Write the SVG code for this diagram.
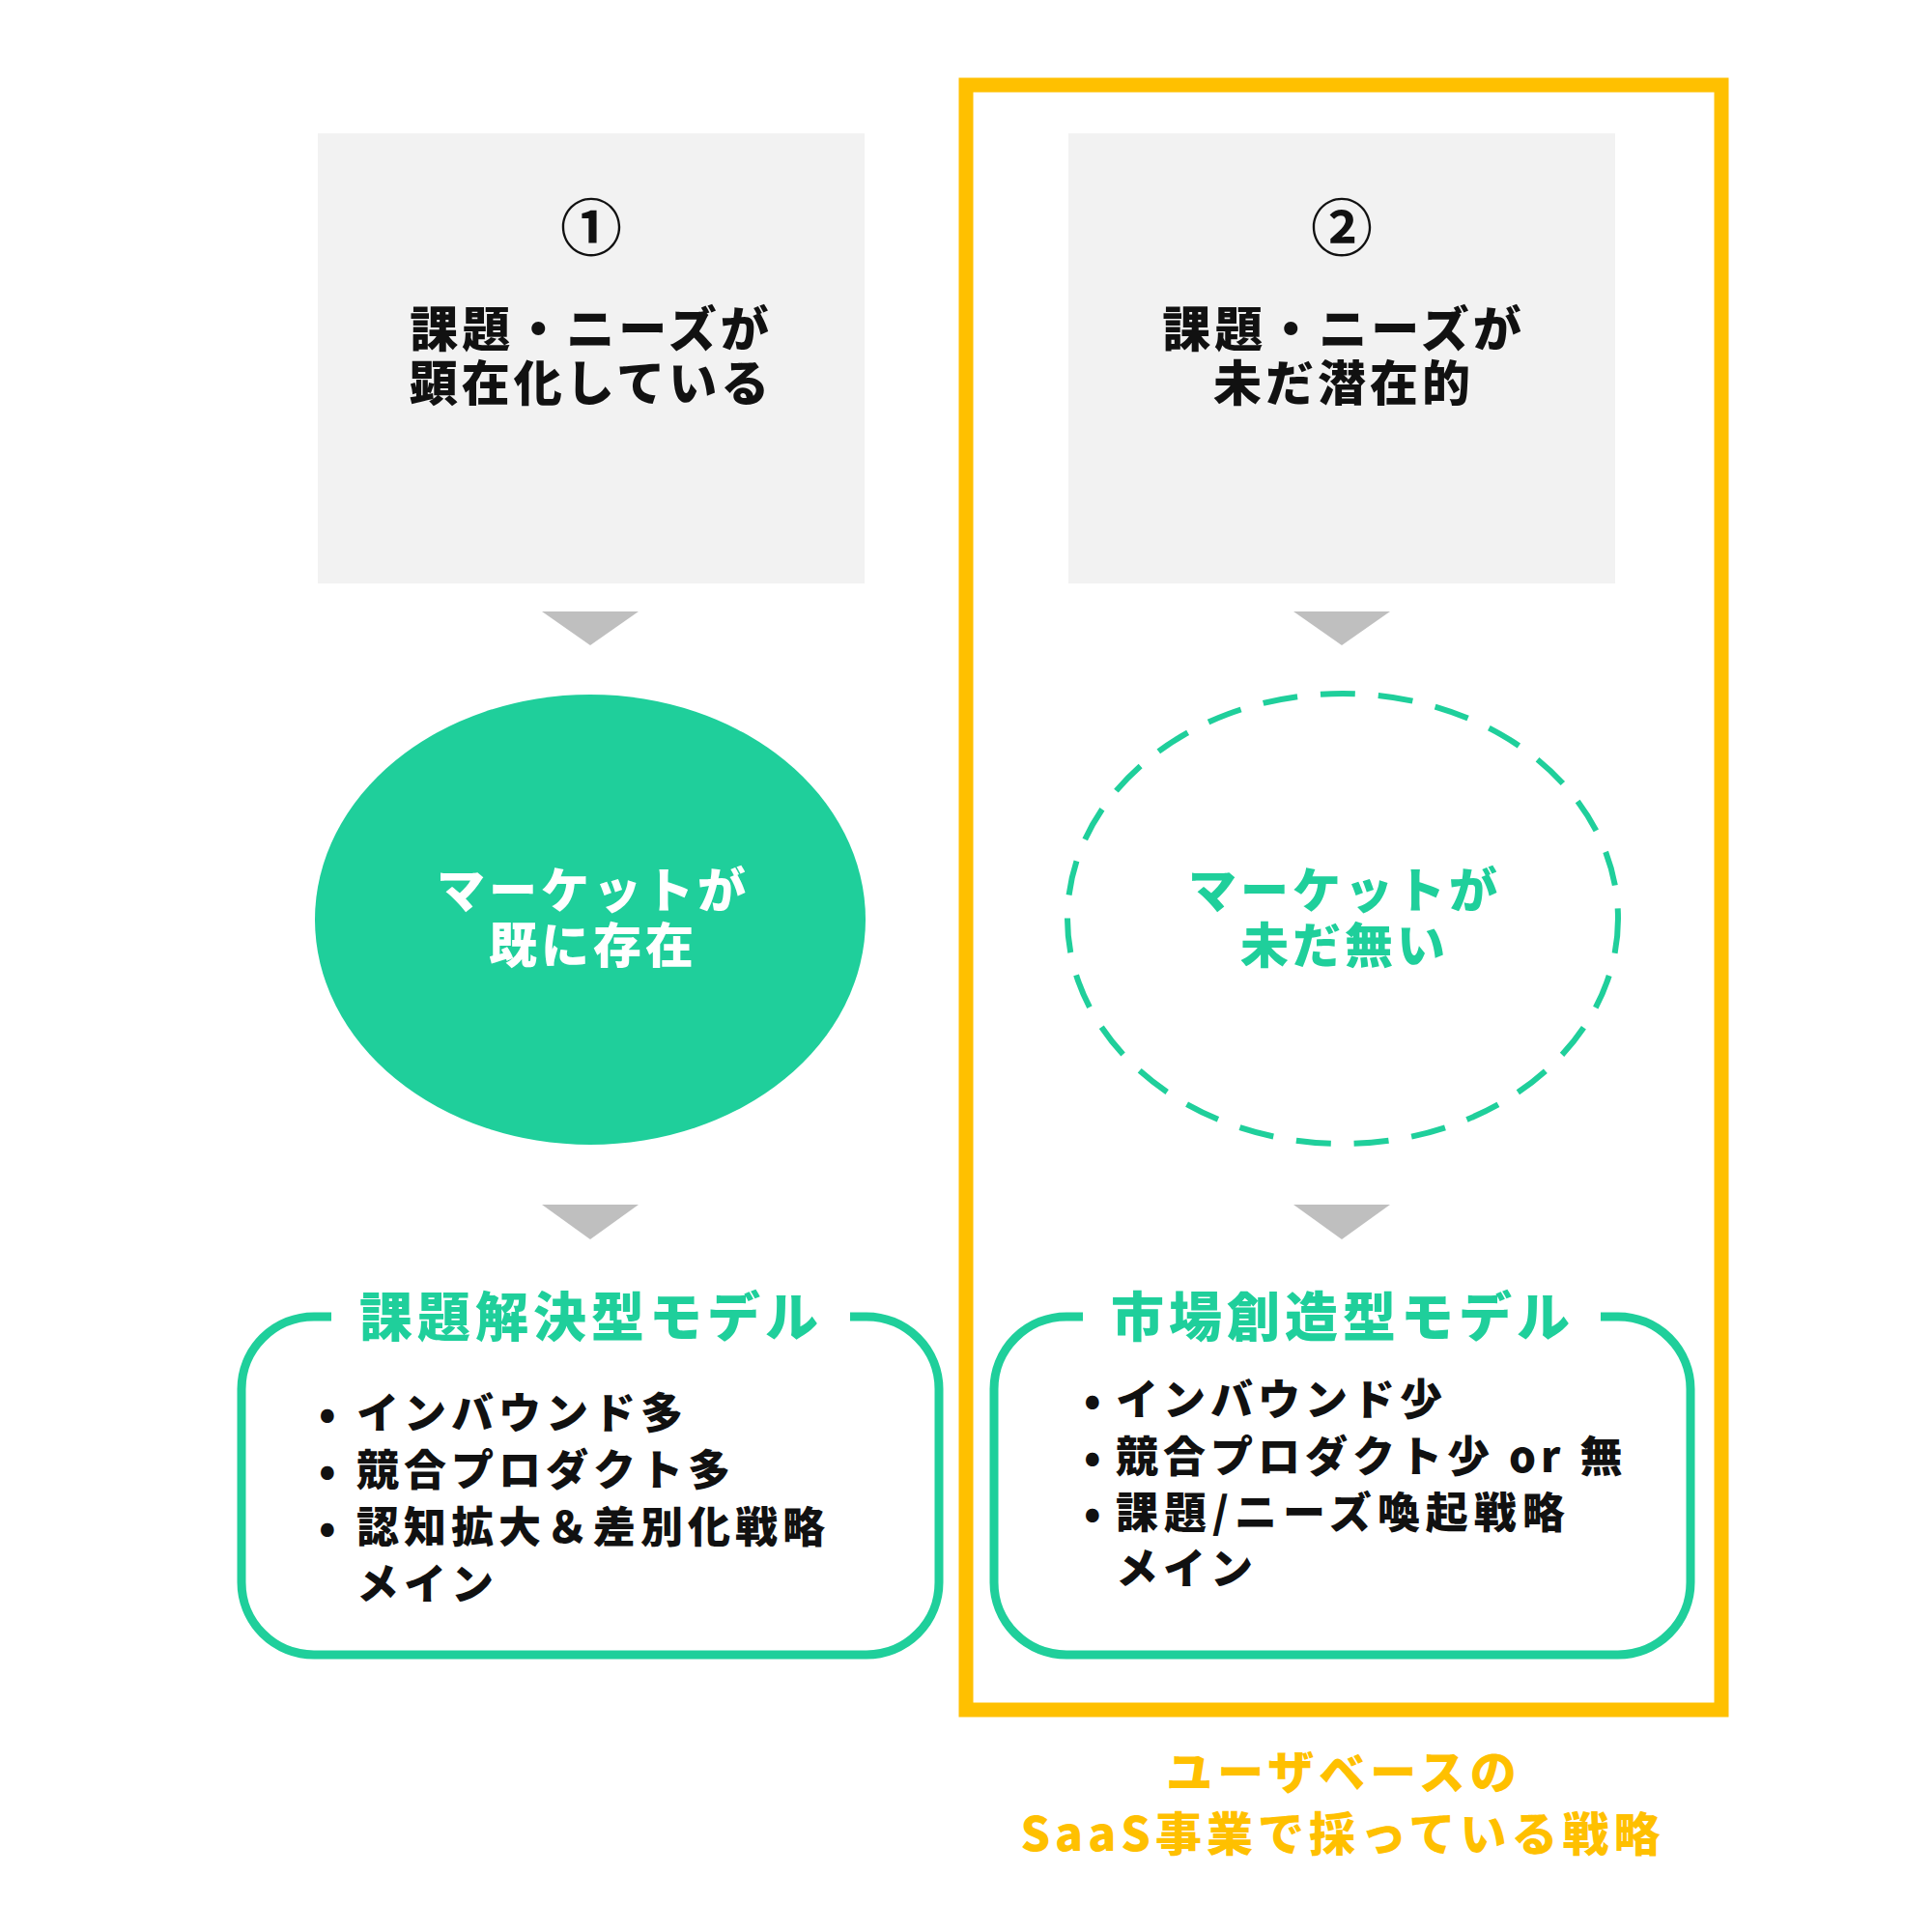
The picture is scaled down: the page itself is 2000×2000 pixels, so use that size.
<svg xmlns="http://www.w3.org/2000/svg" width="2000" height="2000" viewBox="0 0 2000 2000">
<style>
text{font-family:"Noto Sans CJK JP","Noto Sans",sans-serif;font-weight:900}
.dark{fill:#111111}
.mid{text-anchor:middle}
.t1{font-size:50px;letter-spacing:4px}
.num{font-size:64px;font-weight:bold}
.ttl{font-size:55px;letter-spacing:5px;fill:#1fcf9b}
.li{font-size:44px;letter-spacing:5px;fill:#111111}
.gray{fill:#f2f2f2}
.arr{fill:#bfbfbf}
.grn{fill:#1fcf9b}
.ylw{fill:#ffc000}
</style>
<rect width="2000" height="2000" fill="#ffffff"/>
<g id="frame">
<rect x="1000" y="88" width="782" height="1682" fill="none" stroke="#ffc000" stroke-width="15"/>
</g>
<g id="box1">
<rect class="gray" x="329" y="138" width="566" height="466"/>
<text class="dark mid num" x="612" y="259">①</text>
<text class="dark mid t1"><tspan x="612" y="359">課題・ニーズが</tspan><tspan x="612" y="415">顕在化している</tspan></text>
</g>
<g id="box2">
<rect class="gray" x="1106" y="138" width="566" height="466"/>
<text class="dark mid num" x="1389" y="259">②</text>
<text class="dark mid t1"><tspan x="1391" y="359">課題・ニーズが</tspan><tspan x="1391" y="415">未だ潜在的</tspan></text>
</g>
<g id="connectors">
<polygon class="arr" points="561,633 661,633 611,668"/>
<polygon class="arr" points="561,1247 661,1247 611,1283"/>
<polygon class="arr" points="1339,633 1439,633 1389,668"/>
<polygon class="arr" points="1339,1247 1439,1247 1389,1283"/>
</g>
<g id="market1">
<ellipse class="grn" cx="611" cy="952" rx="285" ry="233"/>
<text class="mid t1" fill="#ffffff"><tspan x="614" y="940">マーケットが</tspan><tspan x="614" y="997">既に存在</tspan></text>
</g>
<g id="market2">
<ellipse cx="1390" cy="951" rx="285" ry="233" fill="none" stroke="#1fcf9b" stroke-width="6" stroke-dasharray="36 24"/>
<text class="mid t1 grn"><tspan x="1392" y="940">マーケットが</tspan><tspan x="1392" y="997">未だ無い</tspan></text>
</g>
<g id="model1">
<rect x="250" y="1363" width="722" height="350" rx="75" fill="none" stroke="#1fcf9b" stroke-width="9"/>
<rect x="343" y="1350" width="537" height="30" fill="#ffffff"/>
<text class="ttl mid" x="612" y="1383">課題解決型モデル</text>
<text class="li"><tspan x="330" y="1479">•</tspan><tspan x="369" y="1479">インバウンド多</tspan><tspan x="330" y="1538">•</tspan><tspan x="369" y="1538">競合プロダクト多</tspan><tspan x="330" y="1597">•</tspan><tspan x="369" y="1597">認知拡大＆差別化戦略</tspan><tspan x="369" y="1656">メイン</tspan></text>
</g>
<g id="model2">
<rect x="1029" y="1363" width="721" height="350" rx="75" fill="none" stroke="#1fcf9b" stroke-width="9"/>
<rect x="1121" y="1350" width="536" height="30" fill="#ffffff"/>
<text class="ttl mid" x="1390" y="1383">市場創造型モデル</text>
<text class="li"><tspan x="1122" y="1465">•</tspan><tspan x="1155" y="1465">インバウンド少</tspan><tspan x="1122" y="1524">•</tspan><tspan x="1155" y="1524">競合プロダクト少 or 無</tspan><tspan x="1122" y="1582">•</tspan><tspan x="1155" y="1582" style="letter-spacing:6px">課題/ニーズ喚起戦略</tspan><tspan x="1155" y="1640">メイン</tspan></text>
</g>
<g id="caption">
<text class="mid ylw" style="font-size:48px;letter-spacing:5px"><tspan x="1391" y="1852">ユーザベースの</tspan><tspan x="1390" y="1916">SaaS事業で採っている戦略</tspan></text>
</g>
</svg>
